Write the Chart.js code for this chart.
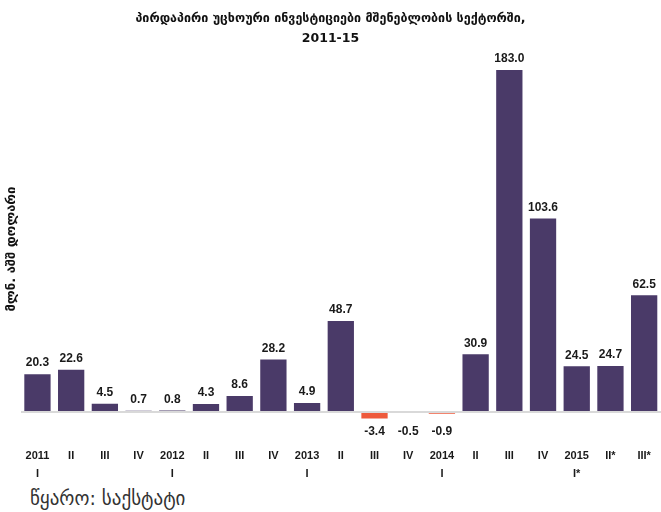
<!DOCTYPE html>
<html>
<head>
<meta charset="utf-8">
<script src="https://cdn.jsdelivr.net/npm/chart.js@4"></script>
<style>
  html, body { margin: 0; padding: 0; background: #fff; }
  #wrap { position: relative; width: 661px; height: 512px; }
  #source {
    position: absolute; left: 30px; top: 487px;
    font-family: 'DejaVu Sans', sans-serif; font-size: 19px; color: #333;
  }
</style>
</head>
<body>
<div id="wrap">
  <canvas id="barChart" width="661" height="486"></canvas>
  <div id="source">წყარო: საქსტატი</div>
</div>
<script>
// chart data
const years = ['2011', '', '', '', '2012', '', '', '', '2013', '', '', '', '2014', '', '', '', '2015', '', ''];
const quarters = ['I', 'II', 'III', 'IV', 'I', 'II', 'III', 'IV', 'I', 'II', 'III', 'IV', 'I', 'II', 'III', 'IV', 'I*', 'II*', 'III*'];
const fdiValues = [20.3, 22.6, 4.5, 0.7, 0.8, 4.3, 8.6, 28.2, 4.9, 48.7, -3.4, -0.5, -0.9, 30.9, 183.0, 103.6, 24.5, 24.7, 62.5];

const titleLines = ['პირდაპირი უცხოური ინვესტიციები მშენებლობის სექტორში,', '2011-15'];
const yTitle = 'მლნ. აშშ დოლარი';

// first row shows year + quarter "I" below it, others only the quarter
const labels = quarters.map((q, i) => years[i] ? [years[i], q] : q);

// value labels over / under bars
const valueLabels = {
    id: 'valueLabels',
    afterDatasetsDraw(chart) {
        const ctx = chart.ctx;
        const meta = chart.getDatasetMeta(0);
        const zeroY = chart.scales.y.getPixelForValue(0);
        ctx.save();
        ctx.font = 'bold 12px "Liberation Sans", sans-serif';
        ctx.fillStyle = '#1a1a1a';
        ctx.textAlign = 'center';
        meta.data.forEach((bar, i) => {
            const v = fdiValues[i];
            const txt = v.toFixed(1);
            if (v >= 0) {
                ctx.textBaseline = 'bottom';
                ctx.fillText(txt, bar.x, bar.y - 5);
            } else {
                ctx.textBaseline = 'middle';
                ctx.fillText(txt, bar.x, zeroY + 20);
            }
        });
        ctx.restore();
    }
};

const barCtx = document.getElementById('barChart').getContext('2d');
new Chart(barCtx, {
    type: 'bar',
    data: {
        labels: labels,
        datasets: [{
            data: fdiValues,
            backgroundColor: fdiValues.map(v => v < 0 ? '#ee5a3c' : '#4a3a68'),
            categoryPercentage: 1.0,
            barPercentage: 0.78
        }]
    },
    options: {
        responsive: false,
        animation: false,
        layout: { padding: 0 },
        plugins: {
            legend: { display: false },
            tooltip: { enabled: false },
            title: {
                display: true,
                text: titleLines,
                color: '#111',
                font: { family: '"DejaVu Sans", sans-serif', size: 12.5, weight: 'bold', lineHeight: 1.65 },
                padding: { top: 8, bottom: 5 }
            }
        },
        scales: {
            x: {
                grid: { display: false, drawTicks: false },
                border: { display: false },
                ticks: {
                    color: '#1a1a1a',
                    font: { family: '"Liberation Sans", sans-serif', size: 11, weight: 'bold', lineHeight: 1.55 },
                    padding: 4,
                    maxRotation: 0,
                    autoSkip: false
                }
            },
            y: {
                min: -17,
                max: 191.4,
                afterBuildTicks: axis => { axis.ticks = [{ value: 0 }]; },
                ticks: { display: false },
                grid: { color: '#d9d9d9', lineWidth: 2, drawTicks: false },
                border: { display: false },
                title: {
                    display: true,
                    text: yTitle,
                    color: '#111',
                    font: { family: '"DejaVu Sans", sans-serif', size: 13, weight: 'bold' },
                    padding: { top: 4, bottom: 1 }
                }
            }
        }
    },
    plugins: [valueLabels]
});
</script>
</body>
</html>
